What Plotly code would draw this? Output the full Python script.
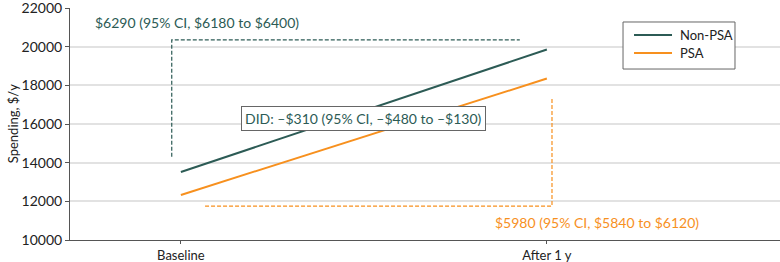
import plotly.graph_objects as go

categories = ["Baseline", "After 1 y"]
series_names = ["Non-PSA", "PSA"]
non_psa = [13520, 19850]
psa = [12330, 18350]
y_ticks = [10000, 12000, 14000, 16000, 18000, 20000, 22000]
green = "#2c5b55"
orange = "#f7901e"
font = "Lato"

x = [0, 1]
fig = go.Figure()
fig.add_trace(go.Scatter(x=x, y=non_psa, mode="lines", name=series_names[0],
                         line=dict(color=green, width=2), showlegend=False))
fig.add_trace(go.Scatter(x=x, y=psa, mode="lines", name=series_names[1],
                         line=dict(color=orange, width=2), showlegend=False))
# bracket lines
fig.add_trace(go.Scatter(x=[-0.025, -0.025, 0.926], y=[14300, 20350, 20350], mode="lines",
                         line=dict(color=green, width=1.2, dash="4px,2px"), showlegend=False, hoverinfo="skip"))
fig.add_trace(go.Scatter(x=[0.066, 1.014, 1.014], y=[11750, 11750, 17400], mode="lines",
                         line=dict(color=orange, width=1.2, dash="4px,2px"), showlegend=False, hoverinfo="skip"))

fig.add_annotation(x=0.044, y=21230, text="$6290 (95% CI, $6180 to $6400)", showarrow=False,
                   font=dict(color=green, size=14, family=font))
fig.add_annotation(x=0.5, y=16300, text="DID: –$310 (95% CI, –$480 to –$130)", showarrow=False,
                   font=dict(color=green, size=14, family=font), bgcolor="white",
                   bordercolor="#666", borderwidth=1, borderpad=3)
fig.add_annotation(x=1.137, y=10880, text="$5980 (95% CI, $5840 to $6120)", showarrow=False,
                   font=dict(color=orange, size=14, family=font))
fig.add_annotation(xref="paper", yref="paper", x=-0.080, y=0.5, xanchor="center", yanchor="middle",
                   text="Spending, $/y", textangle=-90, showarrow=False,
                   font=dict(size=13, family=font, color="#222"))

# manual legend (paper coordinates)
fig.add_shape(type="rect", xref="paper", yref="paper", x0=0.7789, x1=0.9366, y0=0.737, y1=0.9397,
              line=dict(color="#666", width=1), fillcolor="white", layer="above")
for name, col, yy in [(series_names[0], green, 0.8836), (series_names[1], orange, 0.806)]:
    fig.add_shape(type="line", xref="paper", yref="paper", x0=0.7944, x1=0.8479, y0=yy, y1=yy,
                  line=dict(color=col, width=2), layer="above")
    fig.add_annotation(xref="paper", yref="paper", x=0.8563, y=yy, xanchor="left", yanchor="middle",
                       text=name, showarrow=False, font=dict(size=13, family=font, color="#222"))

fig.update_layout(
    width=780, height=262,
    margin=dict(l=70, r=0, t=8, b=22),
    plot_bgcolor="white", paper_bgcolor="white",
    font=dict(family=font, size=13, color="#222"),
    showlegend=False,
    xaxis=dict(range=[-0.303, 1.637], tickvals=x, ticktext=categories, showgrid=False,
               zeroline=False, showline=True, linecolor="#555", ticks="outside", ticklen=3,
               tickcolor="#555", automargin=False, tickfont=dict(size=13)),
    yaxis=dict(range=[10000, 22000], tickvals=y_ticks, tickformat="d", showgrid=True,
               gridcolor="#e2e2e2", gridwidth=1.5, zeroline=False, showline=True, linecolor="#555",
               ticks="outside", ticklen=4, tickcolor="#555", automargin=False,
               ticklabeloverflow="allow", tickfont=dict(size=14)),
)
fig.write_html("out.html", config={"displayModeBar": False},
               post_script="document.body.style.margin='0';")
